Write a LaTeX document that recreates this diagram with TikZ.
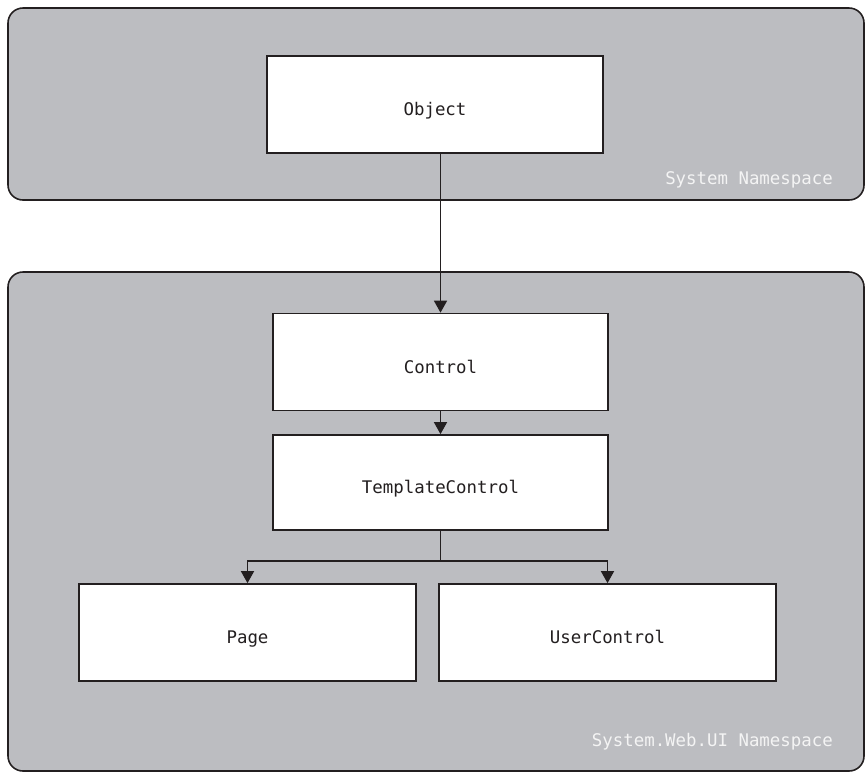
\documentclass[tikz,border=0pt]{standalone}
\usepackage{fontspec}
\setmonofont{DejaVu Sans Mono}
\usetikzlibrary{arrows.meta,positioning}
\definecolor{panelgray}{HTML}{BCBDC1}
\definecolor{inkline}{HTML}{231F20}
\definecolor{nstext}{HTML}{F4F4F4}

\begin{document}
\begin{tikzpicture}[x=0.02cm,y=-0.02cm,
  ns/.style={fill=panelgray,draw=inkline,line width=0.9pt,rounded corners=0.3cm},
  cls/.style={draw=inkline,fill=white,line width=1pt,minimum width=6.72cm,
              minimum height=1.94cm,text height=5mm,text depth=0.6mm,
              font=\ttfamily\fontsize{9.9}{12}\selectfont,text=inkline},
  nslabel/.style={anchor=east,text=nstext,font=\ttfamily\fontsize{9.9}{12}\selectfont},
  arr/.style={-{Triangle[length=2.4mm,width=2.6mm]},inkline,line width=0.9pt}]
\useasboundingbox (0,0) rectangle (865,772);
% namespace panels
\draw[ns] (8,8) rectangle (864,200);
\draw[ns] (8,272) rectangle (864,771);
\node[nslabel] (sysns) at (839,180) {System Namespace};
\node[nslabel] (webns) at (839,742) {System.Web.UI Namespace};
% classes
\node[cls] (obj)  at (435,104.5)   {Object};
\node[cls,minimum width=6.7cm] (ctrl) at (440.5,362)   {Control};
\node[cls,minimum width=6.7cm,minimum height=1.9cm] (tmpl) at (440.5,482.5) {TemplateControl};
\node[cls,minimum width=6.74cm] (page) at (247.5,632.5) {Page};
\node[cls,minimum width=6.74cm] (uctl) at (607.5,632.5) {UserControl};
\coordinate (split) at (440.5,561);
\draw[arr] (ctrl.north |- obj.south) -- (ctrl.north);
\draw[arr] (ctrl) -- (tmpl);
\draw[inkline,line width=0.9pt] (tmpl.south) -- (split);
\draw[arr] (split) -| (page.north);
\draw[arr] (split) -| (uctl.north);
\end{tikzpicture}
\end{document}
